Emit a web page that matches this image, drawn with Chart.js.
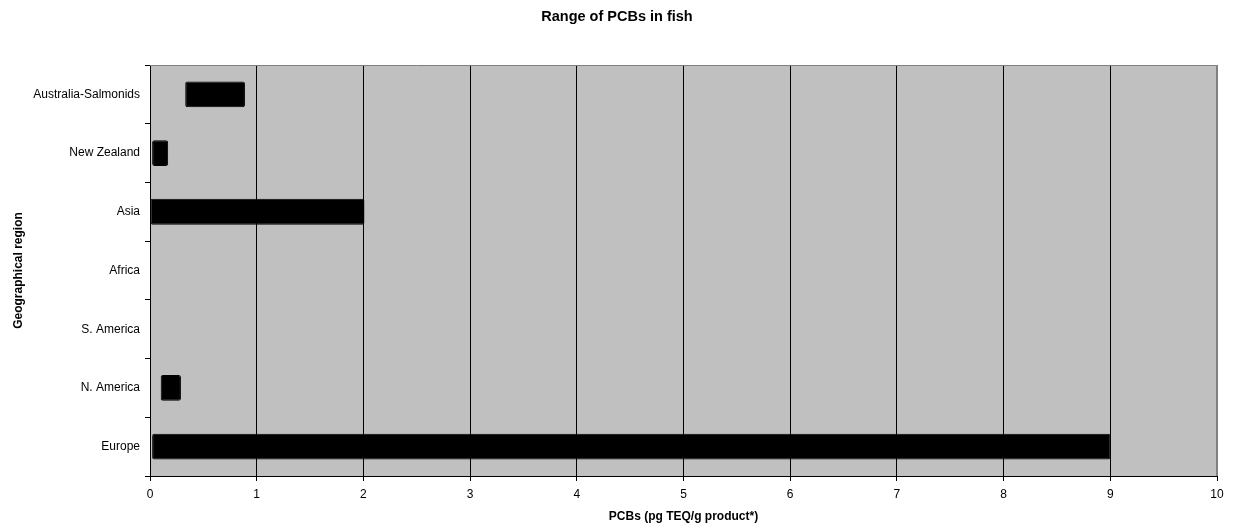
<!DOCTYPE html>
<html>
<head>
<meta charset="utf-8">
<script src="https://cdn.jsdelivr.net/npm/chart.js@4/dist/chart.umd.min.js"></script>
<style>
  html, body { margin: 0; padding: 0; background: #ffffff; }
  #wrap { width: 1234px; height: 531px; position: relative; }
</style>
</head>
<body>
<div id="wrap"><canvas id="c" width="1234" height="531"></canvas></div>
<script>
const categories = ['Australia-Salmonids', 'New Zealand', 'Asia', 'Africa', 'S. America', 'N. America', 'Europe'];
const rangeLow  = [0.33, 0.02, 0.00, null, null, 0.10, 0.02];
const rangeHigh = [0.89, 0.17, 2.01, null, null, 0.29, 9.00];
const xTicks = [0, 1, 2, 3, 4, 5, 6, 7, 8, 9, 10];

const chartTitle = 'Range of PCBs in fish';
const xTitle = 'PCBs (pg TEQ/g product*)';
const yTitle = 'Geographical region';

const ranges = categories.map((c, i) =>
  (rangeLow[i] === null || rangeHigh[i] === null) ? null : [rangeLow[i], rangeHigh[i]]);

const FONT = "'Liberation Sans', Arial, Helvetica, sans-serif";

const plotBg = {
  id: 'plotBg',
  beforeDraw(chart) {
    const { ctx, chartArea: a } = chart;
    ctx.save();
    ctx.fillStyle = '#C0C0C0';
    ctx.fillRect(a.left, a.top, a.right - a.left, a.bottom - a.top);
    ctx.restore();
  },
  afterDraw(chart) {
    const { ctx, chartArea: a } = chart;
    ctx.save();
    ctx.strokeStyle = '#808080';
    ctx.lineWidth = 1;
    ctx.beginPath();
    ctx.moveTo(a.left, a.top + 0.5);
    ctx.lineTo(a.right - 0.5, a.top + 0.5);
    ctx.lineTo(a.right - 0.5, a.bottom);
    ctx.stroke();
    ctx.restore();
  }
};

new Chart(document.getElementById('c'), {
  type: 'bar',
  data: {
    labels: categories,
    datasets: [{
      data: ranges,
      backgroundColor: '#000000',
      borderColor: '#000000',
      borderWidth: 1,
      borderSkipped: false,
      borderRadius: 2,
      barPercentage: 0.44,
      categoryPercentage: 1.0
    }]
  },
  options: {
    indexAxis: 'y',
    responsive: false,
    animation: false,
    layout: { padding: 0 },
    plugins: {
      legend: { display: false },
      tooltip: { enabled: false },
      title: {
        display: true,
        text: chartTitle,
        color: '#000',
        font: { family: FONT, size: 14.5, weight: 'bold' },
        padding: { top: 8.3, bottom: 39.3 }
      }
    },
    scales: {
      x: {
        type: 'linear',
        min: 0,
        max: 10,
        afterBuildTicks(scale) { scale.ticks = xTicks.map(v => ({ value: v })); },
        afterFit(scale) { scale.height = 55; },
        ticks: {
          color: '#000',
          font: { family: FONT, size: 12 },
          padding: 6,
          maxRotation: 0,
          callback: v => String(v)
        },
        grid: {
          color: ctx => (ctx.tick && ctx.tick.value === 10) ? '#808080' : '#000',
          lineWidth: 1,
          drawTicks: true,
          tickLength: 5,
          tickColor: '#000'
        },
        border: { display: true, color: '#000', width: 1 },
        title: {
          display: true,
          text: xTitle,
          color: '#000',
          font: { family: FONT, size: 12, weight: 'bold' },
          padding: { top: 0, bottom: 7.4 }
        }
      },
      y: {
        type: 'category',
        offset: true,
        afterFit(scale) { scale.width = 150; },
        ticks: {
          color: '#000',
          font: { family: FONT, size: 12 },
          padding: 5
        },
        grid: {
          offset: true,
          drawOnChartArea: false,
          drawTicks: true,
          tickLength: 5,
          color: '#000',
          tickColor: '#000'
        },
        border: { display: true, color: '#000', width: 1 },
        title: {
          display: true,
          text: yTitle,
          color: '#000',
          font: { family: FONT, size: 12, weight: 'bold' },
          padding: { top: 11.4, bottom: 0 }
        }
      },
      rightGap: {
        type: 'linear',
        axis: 'y',
        position: 'right',
        display: true,
        afterFit(scale) { scale.width = 17; },
        ticks: { display: false },
        grid: { display: false },
        border: { display: false },
        title: { display: false }
      }
    }
  },
  plugins: [plotBg]
});
</script>
</body>
</html>
